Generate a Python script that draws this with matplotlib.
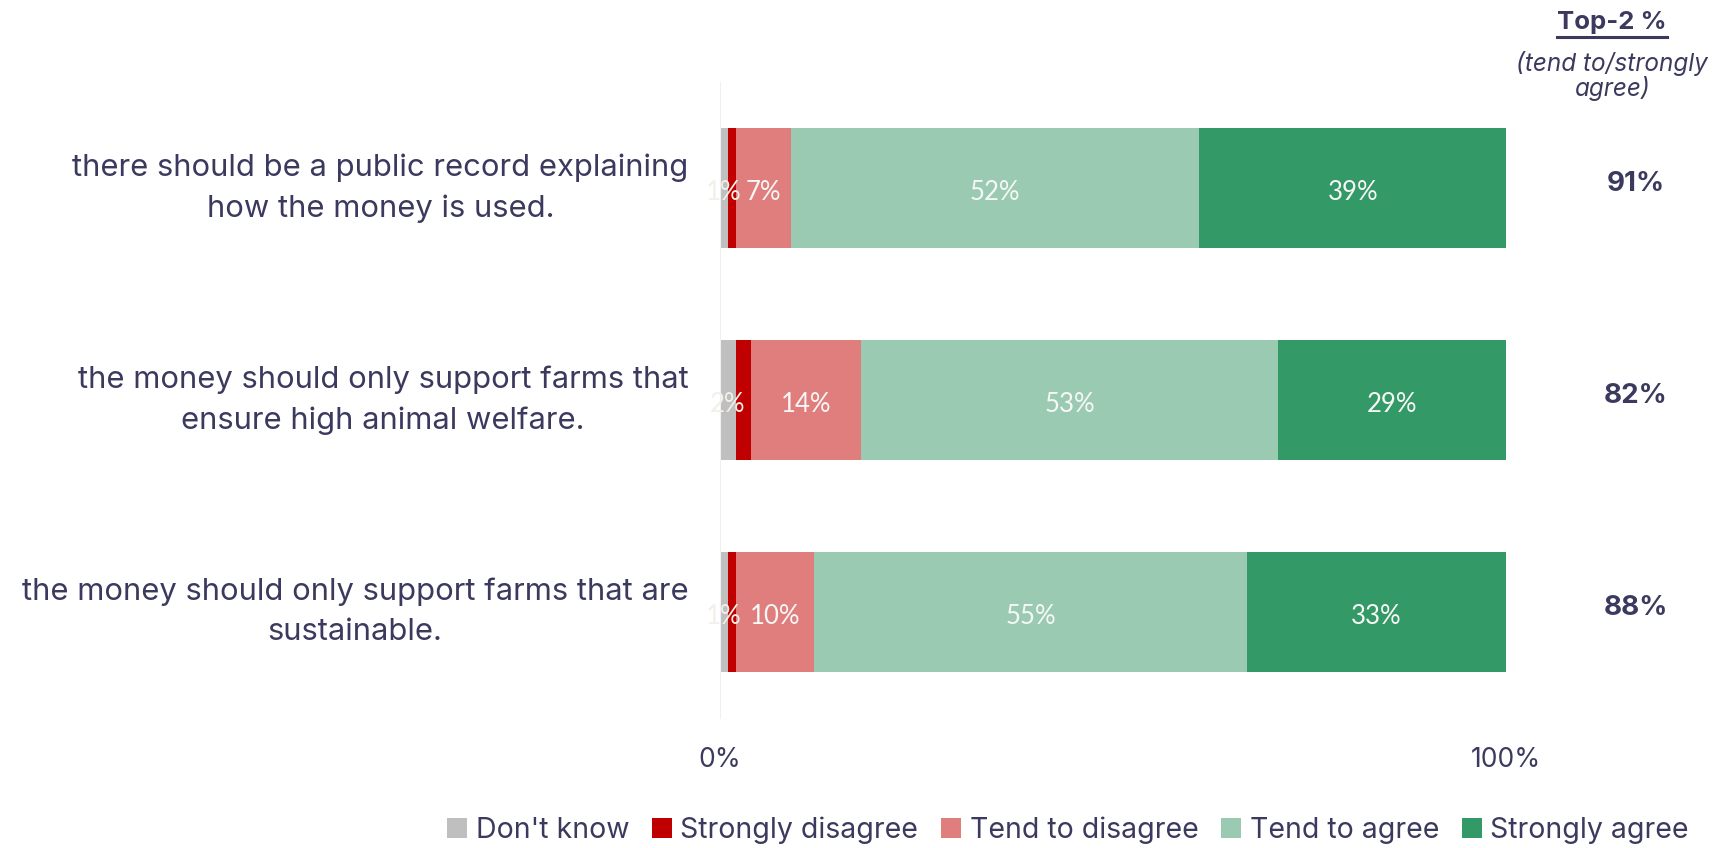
import matplotlib.pyplot as plt
from matplotlib.lines import Line2D
from matplotlib.patches import Patch

statements = [
    "there should be a public record explaining\nhow the money is used.",
    "the money should only support farms that\nensure high animal welfare.",
    "the money should only support farms that are\nsustainable.",
]
responses = ["Don't know", "Strongly disagree", "Tend to disagree", "Tend to agree", "Strongly agree"]
dont_know = [1, 2, 1]
strongly_disagree = [1, 2, 1]
tend_disagree = [7, 14, 10]
tend_agree = [52, 53, 55]
strongly_agree = [39, 29, 33]
top2 = [91, 82, 88]

colors = ["#bfbfbf", "#c00000", "#e07e7e", "#9acbb2", "#339966"]
label_colors = ["#f3f0ea", None, "#f7f7f7", "#f7f7f7", "#f7f7f7"]
ink = "#3b3a5e"

plt.rcParams["font.family"] = ["Inter", "DejaVu Sans"]

fig = plt.figure(figsize=(17.24, 8.48), dpi=100)
ax = fig.add_axes([720 / 1724, 130 / 848, 786 / 1724, 636 / 848])

series = [dont_know, strongly_disagree, tend_disagree, tend_agree, strongly_agree]
ypos = list(range(len(statements)))
left = [0] * len(statements)
for vals, col, lcol in zip(series, colors, label_colors):
    bars = ax.barh(ypos, vals, left=left, height=0.567, color=col, linewidth=0)
    if lcol is not None:
        for y, l, v in zip(ypos, left, vals):
            ax.text(l + v / 2, y + 0.02, f"{v}%", ha="center", va="center",
                    color=lcol, fontsize=18.5, family=["Lato", "DejaVu Sans"])
    left = [l + v for l, v in zip(left, vals)]

ax.set_xlim(0, 100)
ax.set_ylim(2.5, -0.5)
ax.set_xticks([0, 100], ["0%", "100%"])
ax.set_yticks([])
ax.tick_params(axis="x", length=0, pad=21, labelsize=19, labelcolor=ink)
for side in ["top", "right", "bottom"]:
    ax.spines[side].set_visible(False)
ax.spines["left"].set_color("#f0f0f0")

# statement text, centred lines, right edge just left of the bars
for y, s in zip(ypos, statements):
    ax.text(-0.04, y, s, transform=ax.get_yaxis_transform(), ha="right",
            va="center", multialignment="center", fontsize=22.3, color=ink,
            linespacing=1.55)

# top-2 column
for y, v in zip(ypos, top2):
    ax.text(1.165, y - 0.02, f"{v}%", transform=ax.get_yaxis_transform(),
            ha="center", va="center", fontsize=20, fontweight="bold", color=ink)

hdr = fig.text(1612 / 1724, 1 - 23 / 848, "Top-2 %", ha="center", va="center",
               fontsize=18.5, fontweight="bold", color=ink)
fig.text(1612 / 1724, 1 - 76 / 848, "(tend to/strongly\nagree)", ha="center",
         va="center", fontsize=17.5, style="italic", color=ink, linespacing=1.0)

handles = [Patch(facecolor=c, label=r) for c, r in zip(colors, responses)]
fig.legend(handles=handles, loc="center", bbox_to_anchor=(1068 / 1724, 1 - 830 / 848),
           ncol=5, frameon=False, fontsize=20.5, labelcolor=ink, handlelength=0.7,
           handleheight=0.7, handletextpad=0.3, columnspacing=0.8)

# underline the header
fig.canvas.draw()
bb = hdr.get_window_extent()
fig.add_artist(Line2D([bb.x0 / 1724, bb.x1 / 1724], [(bb.y0 - 2) / 848] * 2,
                      color=ink, linewidth=2.2))

fig.savefig("out.png", dpi=100)
